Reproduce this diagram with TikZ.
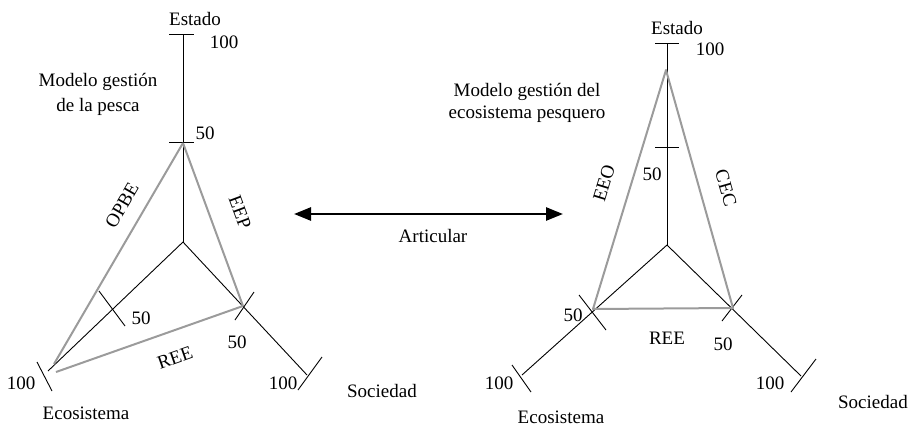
\documentclass[tikz,border=0pt]{standalone}
\usepackage{fontspec}
\setmainfont{Liberation Serif}
\usetikzlibrary{arrows.meta}
\definecolor{tri}{RGB}{155,155,155}
\begin{document}
\begin{tikzpicture}[x=1pt,y=-1pt,
  axis/.style={black,line width=0.9pt},
  tickln/.style={black,line width=0.9pt},
  grayln/.style={tri,line width=2pt},
  lbl/.style={inner sep=0pt,font=\fontsize{19}{22}\selectfont},
  ttl/.style={inner sep=0pt,align=center,font=\fontsize{19}{25}\selectfont},
  link/.style={line width=2.6pt,{Triangle[length=17pt,width=13pt]}-{Triangle[length=17pt,width=13pt]}}]
\useasboundingbox (0,0) rectangle (914,426);
% ---------- left diagram ----------
\coordinate (LC) at (183,242);
\coordinate (LT) at (183,34);
\coordinate (LE) at (48,371);
\coordinate (LS) at (307,375);
\draw[axis] (LC) -- (LT);
\draw[axis] (LC) -- (LE);
\draw[axis] (LC) -- (LS);
\coordinate (lt1) at (169,34); \coordinate (lt2) at (194,34);
\coordinate (lm1) at (169,142); \coordinate (lm2) at (194,142);
\coordinate (le1) at (99,291); \coordinate (le2) at (125,326);
\coordinate (lf1) at (37,362); \coordinate (lf2) at (52,391);
\coordinate (ls1) at (235,320); \coordinate (ls2) at (254,292);
\coordinate (lu1) at (298,390); \coordinate (lu2) at (322,357);
\draw[tickln] (lt1) -- (lt2);
\draw[tickln] (lm1) -- (lm2);
\draw[tickln] (le1) -- (le2);
\draw[tickln] (lf1) -- (lf2);
\draw[tickln] (ls1) -- (ls2);
\draw[tickln] (lu1) -- (lu2);
\coordinate (GA) at (183,143);
\coordinate (GB) at (54,364);
\coordinate (GB2) at (56,372);
\coordinate (GC) at (243,306);
\draw[grayln] (GA) -- (GB);
\draw[grayln] (GA) -- (GC);
\draw[grayln] (GB2) -- (GC);
\node[lbl] (lEst) at (195,19) {Estado};
\node[lbl] (l100a) at (224,42) {100};
\node[ttl] (lMod) at (98,94) {Modelo gestión\\de la pesca};
\node[lbl] (l50a) at (205,133) {50};
\node[lbl,rotate=60] (lOPBE) at (122,205) {OPBE};
\node[lbl,rotate=-69.5] (lEEP) at (240,212) {EEP};
\node[lbl] (l50b) at (141,318) {50};
\node[lbl] (l50c) at (237,342) {50};
\node[lbl,rotate=19.4] (lREE) at (175,358) {REE};
\node[lbl] (l100b) at (21,383) {100};
\node[lbl] (l100c) at (283,383) {100};
\node[lbl] (lEco) at (86,413) {Ecosistema};
\node[lbl] (lSoc) at (382,391) {Sociedad};
% ---------- arrow ----------
\coordinate (AL) at (294,214);
\coordinate (AR) at (563,214);
\draw[link] (AL) -- (AR);
\node[lbl] (art) at (433,236) {Articular};
% ---------- right diagram ----------
\coordinate (RC) at (667,245);
\coordinate (RT) at (667,43);
\coordinate (RE) at (522,375);
\coordinate (RS) at (801,376);
\draw[axis] (RC) -- (RT);
\draw[axis] (RC) -- (RE);
\draw[axis] (RC) -- (RS);
\coordinate (rt1) at (655,43); \coordinate (rt2) at (679,43);
\coordinate (rm1) at (655,147); \coordinate (rm2) at (679,147);
\coordinate (re1) at (579,295); \coordinate (re2) at (606,330);
\coordinate (rf1) at (512,365); \coordinate (rf2) at (531,392);
\coordinate (rs1) at (722,321); \coordinate (rs2) at (742,295);
\coordinate (ru1) at (791,392); \coordinate (ru2) at (816,359);
\draw[tickln] (rt1) -- (rt2);
\draw[tickln] (rm1) -- (rm2);
\draw[tickln] (re1) -- (re2);
\draw[tickln] (rf1) -- (rf2);
\draw[tickln] (rs1) -- (rs2);
\draw[tickln] (ru1) -- (ru2);
\coordinate (HA) at (666,70);
\coordinate (HB) at (593,309);
\coordinate (HC) at (733,308);
\draw[grayln,line join=round] (HB) -- (HA) -- (HC) -- cycle;
\node[lbl] (rEst) at (677,28) {Estado};
\node[lbl] (r100a) at (710,49) {100};
\node[ttl,font=\fontsize{19}{22}\selectfont] (rMod) at (527,103) {Modelo gestión del\\ecosistema pesquero};
\node[lbl] (r50a) at (652,174) {50};
\node[lbl,rotate=73] (rEEO) at (604,183) {EEO};
\node[lbl,rotate=-74] (rCEC) at (726,188) {CEC};
\node[lbl] (r50b) at (573,315) {50};
\node[lbl] (rREE) at (667,338) {REE};
\node[lbl] (r50c) at (723,344) {50};
\node[lbl] (r100b) at (499,383) {100};
\node[lbl] (r100c) at (770,383) {100};
\node[lbl] (rEco) at (561,417) {Ecosistema};
\node[lbl] (rSoc) at (873,402) {Sociedad};
\end{tikzpicture}
\end{document}
